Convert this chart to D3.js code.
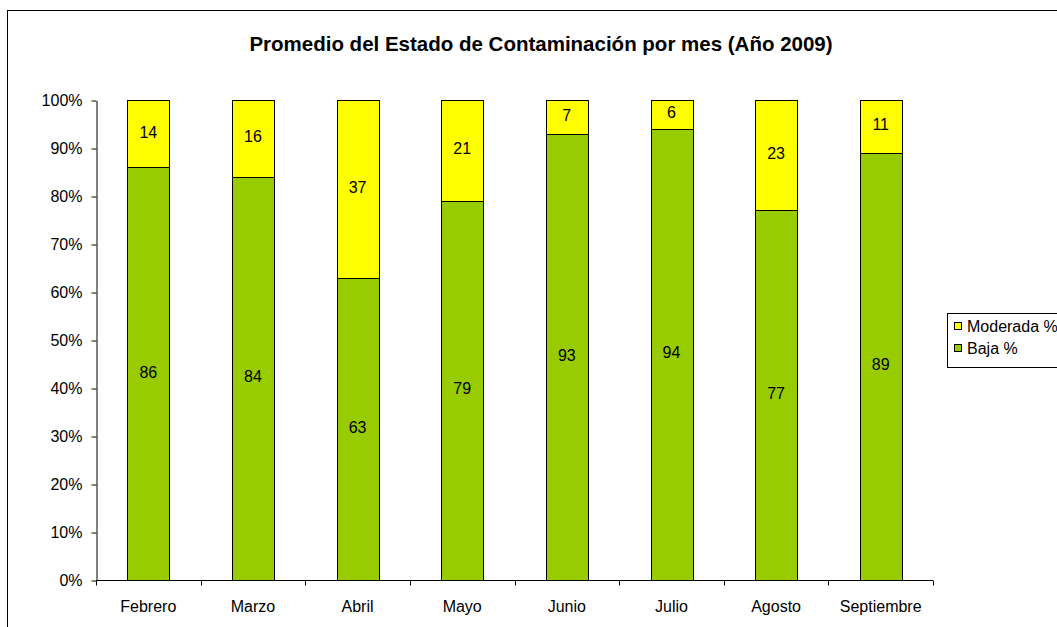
<!DOCTYPE html>
<html>
<head>
<meta charset="utf-8">
<script src="https://cdn.jsdelivr.net/npm/d3@7"></script>
<style>
  body { margin: 0; background: #fff; }
  svg text { font-family: "Liberation Sans", Arial, sans-serif; }
</style>
</head>
<body>
<div id="chart"></div>
<script>
// data
const months = ['Febrero', 'Marzo', 'Abril', 'Mayo', 'Junio', 'Julio', 'Agosto', 'Septiembre']
const baja = [86, 84, 63, 79, 93, 94, 77, 89]
const moderada = [14, 16, 37, 21, 7, 6, 23, 11]
const yTicks = [0, 10, 20, 30, 40, 50, 60, 70, 80, 90, 100]

const width = 1057, height = 627
const svg = d3.select('#chart').append('svg')
    .attr('width', width)
    .attr('height', height)

// chart area frame (runs off the right and bottom edge)
svg.append('rect')
    .attr('x', 7.5).attr('y', 10.5)
    .attr('width', 1100).attr('height', 700)
    .attr('fill', 'none').attr('stroke', '#000')

svg.append('text')
    .attr('x', 541).attr('y', 51)
    .attr('text-anchor', 'middle')
    .style('font-size', '20.5px').style('font-weight', 'bold')
    .text('Promedio del Estado de Contaminación por mes (Año 2009)')

const plot = { left: 96, right: 933, top: 100, bottom: 580 }
const fs = '16px'

const x = d3.scaleBand()
    .domain(months)
    .range([plot.left, plot.right])
    .paddingInner(0.6).paddingOuter(0.3)
const y = d3.scaleLinear().domain([0, 100]).range([plot.bottom, plot.top])

const rows = months.map((m, i) => ({ month: m, baja: baja[i], moderada: moderada[i] }))
const stack = d3.stack().keys(['baja', 'moderada'])(rows)
const colors = { baja: '#99CC00', moderada: '#FFFF00' }

const g = svg.append('g')
stack.forEach(layer => {
    g.selectAll(null)
        .data(layer)
        .enter()
        .append('rect')
        .attr('x', d => Math.round(x(d.data.month)) + 0.5)
        .attr('y', d => Math.round(y(d[1])) + 0.5)
        .attr('width', Math.round(x.bandwidth()))
        .attr('height', d => Math.round(y(d[0])) - Math.round(y(d[1])))
        .attr('fill', colors[layer.key])
        .attr('stroke', '#000')
        .attr('stroke-width', 1)
    g.selectAll(null)
        .data(layer)
        .enter()
        .append('text')
        .attr('x', d => x(d.data.month) + x.bandwidth() / 2)
        .attr('y', d => y((d[0] + d[1]) / 2) + 4)
        .attr('text-anchor', 'middle')
        .style('font-size', fs)
        .text(d => d[1] - d[0])
})

// y axis
const yAxis = svg.append('g')
    .attr('transform', 'translate(' + (plot.left + 0.5) + ',0.5)')
    .call(d3.axisLeft(y).tickValues(yTicks).tickFormat(d => d + '%').tickSize(5).tickSizeOuter(0))
yAxis.selectAll('text').style('font-size', fs).attr('fill', '#000').attr('dx', '-6').attr('dy', '0.3em')
yAxis.selectAll('line, path').attr('stroke', '#000')

// x axis, ticks on category boundaries
const xAxis = svg.append('g')
    .attr('transform', 'translate(0,' + (plot.bottom + 0.5) + ')')
xAxis.append('line')
    .attr('x1', plot.left).attr('x2', plot.right)
    .attr('stroke', '#000')
const step = (plot.right - plot.left) / months.length
d3.range(months.length + 1).forEach(k => {
    const px = Math.round(plot.left + k * step) + 0.5
    xAxis.append('line')
        .attr('x1', px).attr('x2', px).attr('y1', 0).attr('y2', 5)
        .attr('stroke', '#000')
})
xAxis.selectAll(null)
    .data(months)
    .enter()
    .append('text')
    .attr('x', d => x(d) + x.bandwidth() / 2)
    .attr('y', 31)
    .attr('text-anchor', 'middle')
    .style('font-size', fs)
    .text(d => d)

// legend
const legend = svg.append('g')
legend.append('rect')
    .attr('x', 947.5).attr('y', 313.5)
    .attr('width', 200).attr('height', 54)
    .attr('fill', '#fff').attr('stroke', '#000')
const legendItems = [['Moderada %', colors.moderada], ['Baja %', colors.baja]]
legendItems.forEach((it, i) => {
    legend.append('rect')
        .attr('x', 954.5).attr('y', 322.5 + i * 22)
        .attr('width', 7).attr('height', 7)
        .attr('fill', it[1]).attr('stroke', '#000')
    legend.append('text')
        .attr('x', 967).attr('y', 332 + i * 22)
        .style('font-size', fs)
        .text(it[0])
})
</script>
</body>
</html>
